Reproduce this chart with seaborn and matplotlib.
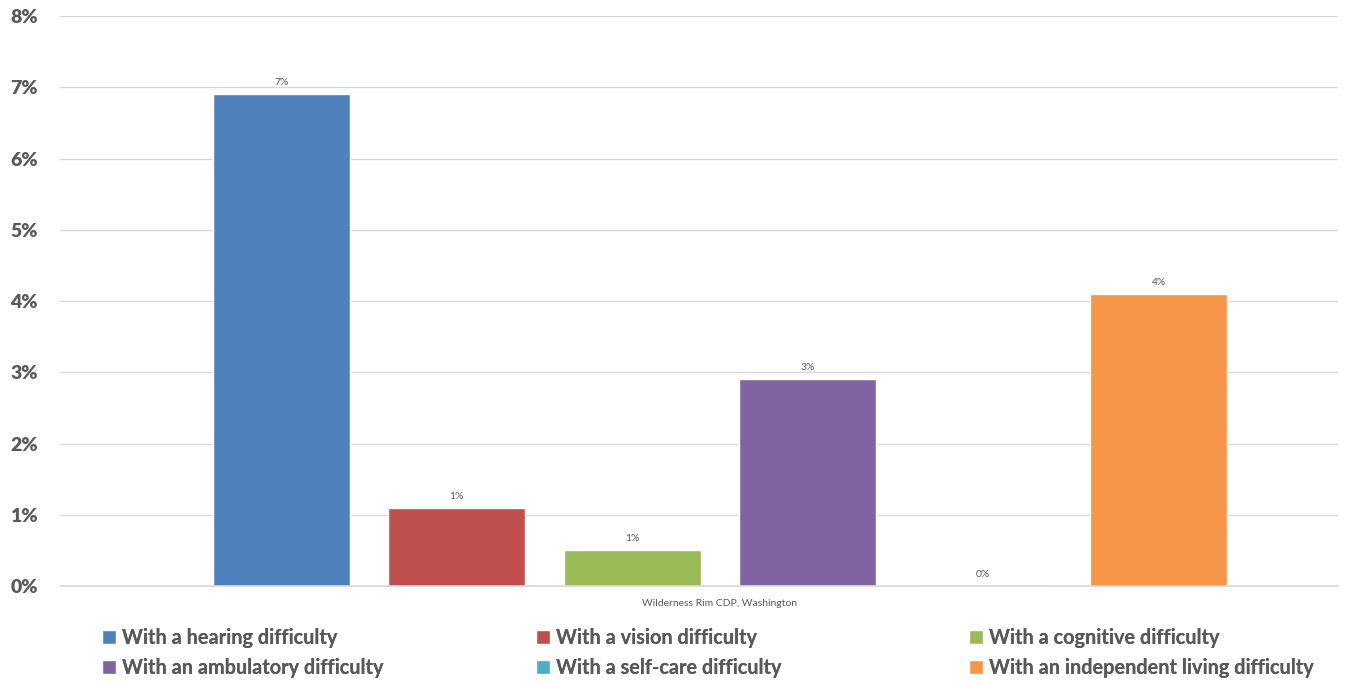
import matplotlib
matplotlib.use('Agg')
import matplotlib.pyplot as plt
import seaborn as sns
import pandas as pd

# Data
location = 'Wilderness Rim CDP, Washington'
kategorijas = ['With a hearing difficulty', 'With a vision difficulty', 'With a cognitive difficulty',
               'With an ambulatory difficulty', 'With a self-care difficulty',
               'With an independent living difficulty']
vertibas = [6.9, 1.1, 0.5, 2.9, 0.0, 4.1]
krasas = ['#4F81BD', '#C0504D', '#9BBB59', '#8064A2', '#4BACC6', '#F79646']
y_ticks = [0, 1, 2, 3, 4, 5, 6, 7, 8]

df = pd.DataFrame({'Location': [location] * len(kategorijas), 'Type': kategorijas, 'Value': vertibas})

sns.set_theme(style="white")
plt.rcParams['font.family'] = ['Lato', 'DejaVu Sans']
text_color = '#595959'

fig = plt.figure(figsize=(13.48, 6.81), dpi=100)
ax = fig.add_axes([0.0445, 0.1395, 0.9481, 0.837])

sns.barplot(data=df, x='Location', y='Value', hue='Type', hue_order=kategorijas,
            palette=krasas, width=0.8, gap=0.22, saturation=1, ax=ax)
handles, labels = ax.get_legend_handles_labels()
ax.get_legend().remove()

# Data labels above bars
for cont, v in zip(ax.containers, vertibas):
    ax.bar_label(cont, labels=[f"{int(v + 0.5)}%"], padding=5, fontsize=7.5, color=text_color)

ax.set_xlim(-0.5015, 0.4696)
ax.set_ylim(0, 8)
ax.set_yticks(y_ticks)
ax.set_yticklabels([f"{t}%" for t in y_ticks], fontsize=14, fontweight='heavy', color=text_color)
ax.tick_params(axis='y', length=0, pad=16)
ax.tick_params(axis='x', length=0, pad=9, labelsize=7.5, labelcolor=text_color)
ax.set_xlabel('')
ax.set_ylabel('')
ax.yaxis.grid(True, color='#D9D9D9', linewidth=1)
ax.set_axisbelow(True)
for s in ['top', 'right', 'left']:
    ax.spines[s].set_visible(False)
ax.spines['bottom'].set_color('#D9D9D9')

# Legend: three columns of two rows each
col_x = [0.070, 0.392, 0.713]
for i, x in enumerate(col_x):
    idx = [i, i + 3]
    leg = fig.legend([handles[j] for j in idx], [labels[j] for j in idx],
                     loc='upper left', bbox_to_anchor=(x, 0.089), frameon=False,
                     handlelength=0.7, handleheight=0.7, handletextpad=0.28, labelspacing=0.5,
                     prop={'size': 14.3, 'weight': 'bold', 'family': ['Lato', 'DejaVu Sans']},
                     labelcolor=text_color, borderaxespad=0)
    fig.add_artist(leg)

fig.savefig('out.png', dpi=100)
